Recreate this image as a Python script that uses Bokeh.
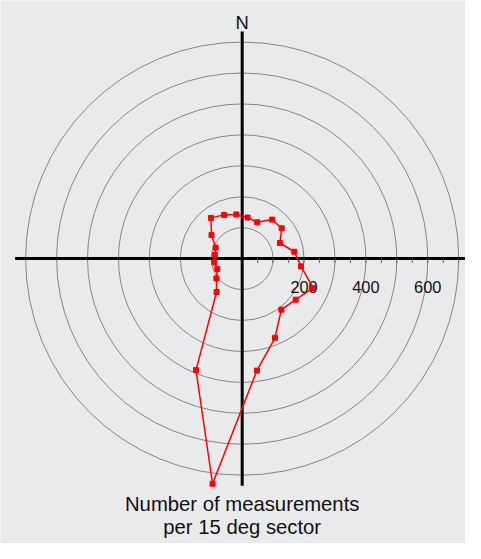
import numpy as np
from bokeh.plotting import figure
from bokeh.models import ColumnDataSource
from bokeh.core.properties import value
from bokeh.embed import file_html
from bokeh.resources import INLINE

# ---- data ----
sector_deg = [7.5, 22.5, 37.5, 52.5, 67.5, 82.5, 97.5, 112.5, 127.5, 142.5, 157.5, 172.5,
              187.5, 202.5, 217.5, 232.5, 247.5, 262.5, 277.5, 292.5, 307.5, 322.5, 337.5, 352.5]
counts = [134, 127, 159, 161, 132, 170, 192, 248, 218, 208, 277, 365,
          734, 390, 136, 105, 87, 91, 89, 93, 125, 166, 153, 144]
ring_radii = [100, 200, 300, 400, 500, 600, 700]
tick_values = [50, 100, 150, 200, 250, 300, 350, 400, 450, 500, 550, 600, 650, 700]
label_values = [200, 400, 600]
label_text = ["200", "400", "600"]

# ---- geometry ----
W, H = 465, 543
k = W / 481.0                 # overall scale relative to a 481 px wide layout
s = 0.32 * k                  # pixels per unit
cx, cy = 250 * k, 267 * k     # centre of the rose in figure pixels
x0, x1 = -cx / s, (W - cx) / s
y1, y0 = cy / s, -(H - cy) / s


def fs(px):
    return f"{px * k:.1f}px"


bg = "#e9eaec"
p = figure(width=W, height=H, x_range=(x0, x1), y_range=(y0, y1),
           x_axis_type=None, y_axis_type=None, toolbar_location=None,
           output_backend="svg", min_border=0)
p.grid.visible = False
p.outline_line_color = None
p.background_fill_color = bg
p.border_fill_color = bg

# rings
p.circle(x=[0] * len(ring_radii), y=[0] * len(ring_radii), radius=ring_radii,
         fill_color=None, line_color="#858585", line_width=1)

# axes
ext = max(counts)
p.segment(x0=[-ext, 0], y0=[0, -ext], x1=[ext, 0], y1=[0, ext],
          line_color="black", line_width=3)

# ticks below the horizontal axis
p.segment(x0=tick_values, y0=[0] * len(tick_values), x1=tick_values,
          y1=[-14] * len(tick_values), line_color="#666666", line_width=1)

# tick labels
p.text(x=label_values, y=[-93] * len(label_values), text=label_text,
       text_font=value("Liberation Sans"), text_font_size=fs(17),
       text_color="#111111", text_align="center", text_baseline="alphabetic")

# data polygon
th = np.deg2rad(np.array(sector_deg))
r = np.array(counts, dtype=float)
xs = r * np.sin(th)
ys = r * np.cos(th)
src = ColumnDataSource(dict(x=xs, y=ys))
p.line(x=np.append(xs, xs[0]), y=np.append(ys, ys[0]), line_color="red", line_width=1.5)
p.scatter(x="x", y="y", source=src, marker="square", size=5,
          fill_color="red", line_color="red")

# North label
p.text(x=[0], y=[762], text=["N"], text_font=value("Liberation Sans"),
       text_font_size=fs(19), text_color="#111111", text_align="center",
       text_baseline="alphabetic")

# caption
p.text(x=[0, 0], y=[-792, -866],
       text=["Number of measurements", "per 15 deg sector"],
       text_font=value("Liberation Sans"), text_font_size=fs(21),
       text_color="#111111", text_align="center", text_baseline="alphabetic")

open("out.html", "w").write(file_html(p, INLINE))
